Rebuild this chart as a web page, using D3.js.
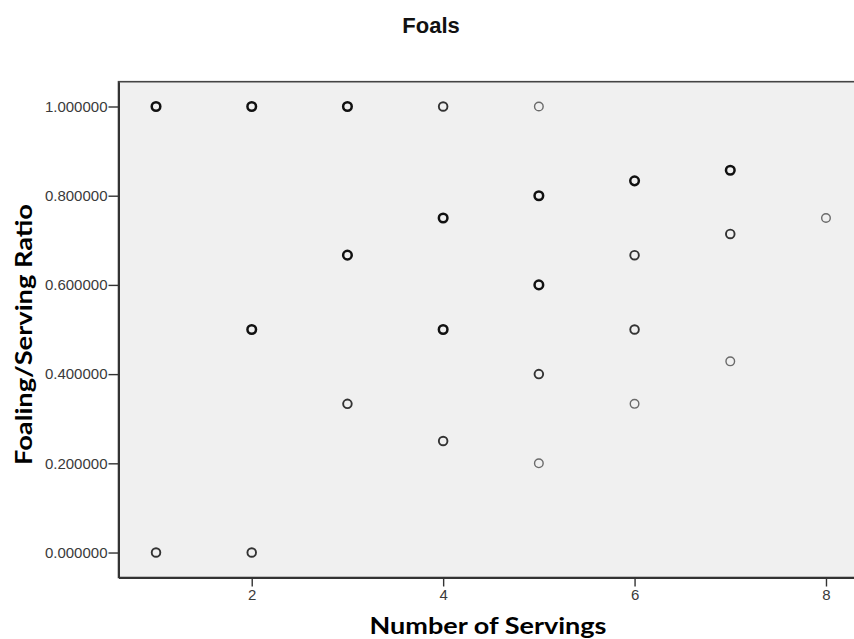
<!DOCTYPE html>
<html>
<head>
<meta charset="utf-8">
<script src="https://cdn.jsdelivr.net/npm/d3@7"></script>
<style>
  html, body { margin: 0; padding: 0; background: #ffffff; }
  svg { display: block; }
</style>
</head>
<body>
<svg id="chart" width="854" height="639"></svg>
<script>
// Number of servings per mare and the resulting foaling/serving ratio
const servings = [1, 1, 2, 2, 2, 3, 3, 3, 4, 4, 4, 4, 5, 5, 5, 5, 5, 6, 6, 6, 6, 7, 7, 7, 8];
const ratio = [1.0, 0.0,
               1.0, 0.5, 0.0,
               1.0, 0.666667, 0.333333,
               1.0, 0.75, 0.5, 0.25,
               1.0, 0.8, 0.6, 0.4, 0.2,
               0.833333, 0.666667, 0.5, 0.333333,
               0.857143, 0.714286, 0.428571,
               0.75];
// How many cases sit on each point (overlapping markers print darker)
const overlap = [3, 2,
                 3, 3, 2,
                 3, 3, 2,
                 2, 3, 3, 2,
                 1, 3, 3, 2, 1,
                 3, 2, 2, 1,
                 3, 2, 1,
                 1];
const xTicks = [2, 4, 6, 8];
const yTicks = [0, 0.2, 0.4, 0.6, 0.8, 1.0];

const svg = d3.select("#chart");
const plot = { left: 118.5, top: 81.7, bottom: 577.5 };

const x = d3.scaleLinear().domain([0.608, 8.392]).range([plot.left, plot.left + 745]);
const y = d3.scaleLinear().domain([-0.056, 1.0556]).range([plot.bottom, plot.top]);

// plot background and frame
svg.append("rect")
  .attr("x", plot.left).attr("y", plot.top)
  .attr("width", x.range()[1] - plot.left)
  .attr("height", plot.bottom - plot.top)
  .attr("fill", "#f0f0f0")
  .attr("stroke", "#444")
  .attr("stroke-width", 1.6);

// axes
const yAxis = d3.axisLeft(y).tickValues(yTicks).tickFormat(d3.format(".6f"))
  .tickSize(10).tickSizeOuter(0).tickPadding(1);
const xAxis = d3.axisBottom(x).tickValues(xTicks).tickFormat(d3.format("d"))
  .tickSize(9).tickSizeOuter(0).tickPadding(3);

const gy = svg.append("g").attr("transform", `translate(${plot.left},0)`).call(yAxis);
const gx = svg.append("g").attr("transform", `translate(0,${plot.bottom})`).call(xAxis);

[gx, gy].forEach(g => {
  g.select(".domain").attr("stroke", "#333").attr("stroke-width", 2);
  g.selectAll(".tick line").attr("stroke", "#333").attr("stroke-width", 1.4);
  g.selectAll(".tick text")
    .attr("fill", "#3a3a3a")
    .style("font-family", "'Liberation Sans', Arial, sans-serif")
    .style("font-size", "15px");
});

// markers
const strokeW = d3.scaleOrdinal().domain([1, 2, 3]).range([1.4, 1.9, 2.5]);
const strokeC = d3.scaleOrdinal().domain([1, 2, 3]).range(["#6a6a6a", "#333333", "#111111"]);

svg.append("g").selectAll("circle")
  .data(servings.map((s, i) => ({ s, r: ratio[i], n: overlap[i] })))
  .join("circle")
  .attr("cx", d => x(d.s))
  .attr("cy", d => y(d.r))
  .attr("r", 4.3)
  .attr("fill", "none")
  .attr("stroke", d => strokeC(d.n))
  .attr("stroke-width", d => strokeW(d.n));

// titles
svg.append("text")
  .attr("x", 431).attr("y", 33)
  .attr("text-anchor", "middle")
  .style("font-family", "'Liberation Sans', Arial, sans-serif")
  .style("font-weight", "bold")
  .style("font-size", "22px")
  .attr("fill", "#111")
  .text("Foals");

svg.append("text")
  .attr("x", 488).attr("y", 634)
  .attr("text-anchor", "middle")
  .attr("textLength", 237).attr("lengthAdjust", "spacingAndGlyphs")
  .style("font-family", "Lato, 'Open Sans', sans-serif")
  .style("font-weight", "bold")
  .style("font-size", "23px")
  .attr("fill", "#000")
  .text("Number of Servings");

svg.append("text")
  .attr("transform", "translate(32,334.5) rotate(-90)")
  .attr("text-anchor", "middle")
  .attr("textLength", 261).attr("lengthAdjust", "spacingAndGlyphs")
  .style("font-family", "Lato, 'Open Sans', sans-serif")
  .style("font-weight", "bold")
  .style("font-size", "23px")
  .attr("fill", "#000")
  .text("Foaling/Serving Ratio");
</script>
</body>
</html>
